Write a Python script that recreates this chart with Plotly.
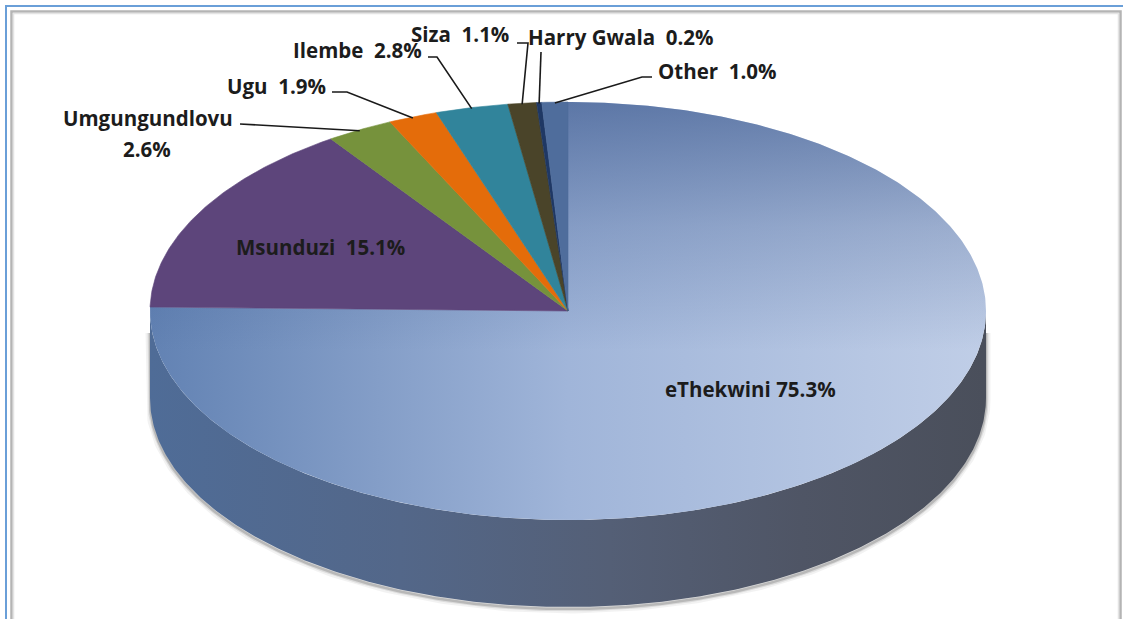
import numpy as np
import plotly.graph_objects as go

# Share of cases by district / metro (percent)
labels = ["eThekwini", "Msunduzi", "Umgungundlovu", "Ugu", "Ilembe", "Siza", "Harry Gwala", "Other"]
shares = [75.3, 15.1, 2.6, 1.9, 2.8, 1.1, 0.2, 1.0]
colors = ["#8aa3cc", "#5d457b", "#76923c", "#e46c0a", "#31849b", "#4a4429", "#1f3864", "#4f6d9c"]

# Pie geometry in page pixels (axes map 1:1 to pixels)
W, H = 1123, 619
CX, CY = 568, 311
RX, RY = 418, 209
DEPTH = 87


def ell(theta_deg, r=1.0, dy=0.0):
    t = np.radians(theta_deg)
    return CX + r * RX * np.sin(t), CY - r * RY * np.cos(t) + dy


def arc(a0, a1, dy=0.0, step=0.5):
    n = max(3, int(abs(a1 - a0) / step) + 1)
    th = np.linspace(a0, a1, n)
    return ell(th, dy=dy)


# slice angles, clockwise from 12 o'clock
cum = np.concatenate([[0.0], np.cumsum(shares)])
a_start = cum[:-1] * 3.6
a_end = cum[1:] * 3.6
a_mid = (a_start + a_end) / 2

fig = go.Figure()

# soft drop shadow around the visible rim
sx_l, sy_l = ell(270)
sx_r, sy_r = ell(90)
bx, by = arc(270, 90, dy=DEPTH)
shx = np.concatenate([[sx_l], bx, [sx_r]])
shy = np.concatenate([[sy_l + 20], by, [sy_r + 20]]) + 2
for w, a in [(9, 0.05), (5, 0.09), (2.5, 0.16)]:
    fig.add_trace(go.Scatter(x=shx, y=shy, mode="lines",
                             line=dict(color=f"rgba(0,0,0,{a})", width=w),
                             hoverinfo="skip", showlegend=False))

# front side wall (belongs to the first slice, which covers the whole front)
tx, ty = arc(90, 270)
bx, by = arc(270, 90, dy=DEPTH)
fig.add_trace(go.Scatter(
    x=np.concatenate([tx, bx]), y=np.concatenate([ty, by]),
    mode="lines", fill="toself", line=dict(width=0),
    fillgradient=dict(type="horizontal", start=CX - RX, stop=CX + RX,
                      colorscale=[[0, "#4f6c97"], [0.3, "#536789"],
                                  [0.55, "#545f76"], [0.78, "#4f5565"],
                                  [1, "#4a4f5b"]]),
    hoverinfo="skip", showlegend=False))

# top faces of the slices
for i, (lab, col) in enumerate(zip(labels, colors)):
    ax, ay = arc(a_start[i], a_end[i])
    px = np.concatenate([[CX], ax, [CX]])
    py = np.concatenate([[CY], ay, [CY]])
    if i == 0:
        fig.add_trace(go.Scatter(
            x=px, y=py, mode="lines", fill="toself", line=dict(width=0),
            fillgradient=dict(type="horizontal", start=CX - RX, stop=CX + RX,
                              colorscale=[[0, "#6282b3"], [0.5, "#a0b5d9"],
                                          [1, "#c0cee7"]]),
            hoverinfo="skip", showlegend=False, name=lab))
        fig.add_trace(go.Scatter(
            x=px, y=py, mode="lines", fill="toself", line=dict(width=0),
            fillgradient=dict(type="vertical", start=CY - RY, stop=CY + 40,
                              colorscale=[[0, "rgba(50,80,135,0.62)"],
                                          [0.5, "rgba(50,80,135,0.25)"],
                                          [1, "rgba(50,80,135,0)"]]),
            hoverinfo="skip", showlegend=False))
    else:
        fig.add_trace(go.Scatter(
            x=px, y=py, mode="lines", fill="toself", fillcolor=col,
            line=dict(width=0.6, color=col),
            hoverinfo="skip", showlegend=False, name=lab))

FONT = dict(family="Open Sans", size=20.5, color="#1c1c1c", weight="bold")
NB = "\u00a0"


def pct(v):
    return f"{v:.1f}%"


# outside labels: (index, text centre, leader start points near the text)
outside = [
    (2, (148, 118), [(240, 124)]),
    (3, (276, 86), [(332, 92), (347, 92)]),
    (4, (357, 50), [(428, 57), (437, 57)]),
    (5, (460, 34), [(517, 43), (528, 43)]),
    (6, (621, 37), [(541, 52)]),
    (7, (717, 71), [(652, 77), (642, 77)]),
]

annotations = []
for idx, (x, y), pts in outside:
    ex, ey = ell(a_mid[idx], dy=1)
    lx = [p[0] for p in pts] + [ex]
    ly = [p[1] for p in pts] + [ey]
    fig.add_trace(go.Scatter(x=lx, y=ly, mode="lines",
                             line=dict(color="#1a1a1a", width=1.6),
                             hoverinfo="skip", showlegend=False))
    if idx == 2:
        annotations.append(dict(x=x, y=y, text=labels[idx], showarrow=False,
                                font=FONT, xanchor="center", yanchor="middle"))
        annotations.append(dict(x=x - 1, y=y + 31, text=pct(shares[idx]),
                                showarrow=False, font=FONT,
                                xanchor="center", yanchor="middle"))
    else:
        annotations.append(dict(x=x, y=y, text=f"{labels[idx]}{NB} {pct(shares[idx])}",
                                showarrow=False, font=FONT,
                                xanchor="center", yanchor="middle"))

# labels drawn on the slices
annotations.append(dict(x=320, y=247, text=f"{labels[1]}{NB} {pct(shares[1])}",
                        showarrow=False, font=FONT, xanchor="center", yanchor="middle"))
annotations.append(dict(x=750, y=389, text=f"{labels[0]} {pct(shares[0])}",
                        showarrow=False, font=FONT, xanchor="center", yanchor="middle"))

# chart frame
shapes = [
    dict(type="rect", xref="x", yref="y", x0=6, y0=6, x1=W + 20, y1=H + 20,
         line=dict(color="#6a9fd8", width=2)),
    dict(type="rect", xref="x", yref="y", x0=11.5, y0=11.5, x1=1120.5, y1=H + 20,
         line=dict(color="#b4b4b4", width=2.5)),
    dict(type="rect", xref="x", yref="y", x0=13.5, y0=13.5, x1=1118.5, y1=H + 20,
         line=dict(color="#e4e4e4", width=1.5)),
]

fig.update_layout(
    width=W, height=H,
    margin=dict(l=0, r=0, t=0, b=0),
    paper_bgcolor="white", plot_bgcolor="white",
    xaxis=dict(range=[0, W], visible=False, fixedrange=True),
    yaxis=dict(range=[H, 0], visible=False, fixedrange=True),
    annotations=annotations,
    shapes=shapes,
    showlegend=False,
)

fig.write_html("out.html")
